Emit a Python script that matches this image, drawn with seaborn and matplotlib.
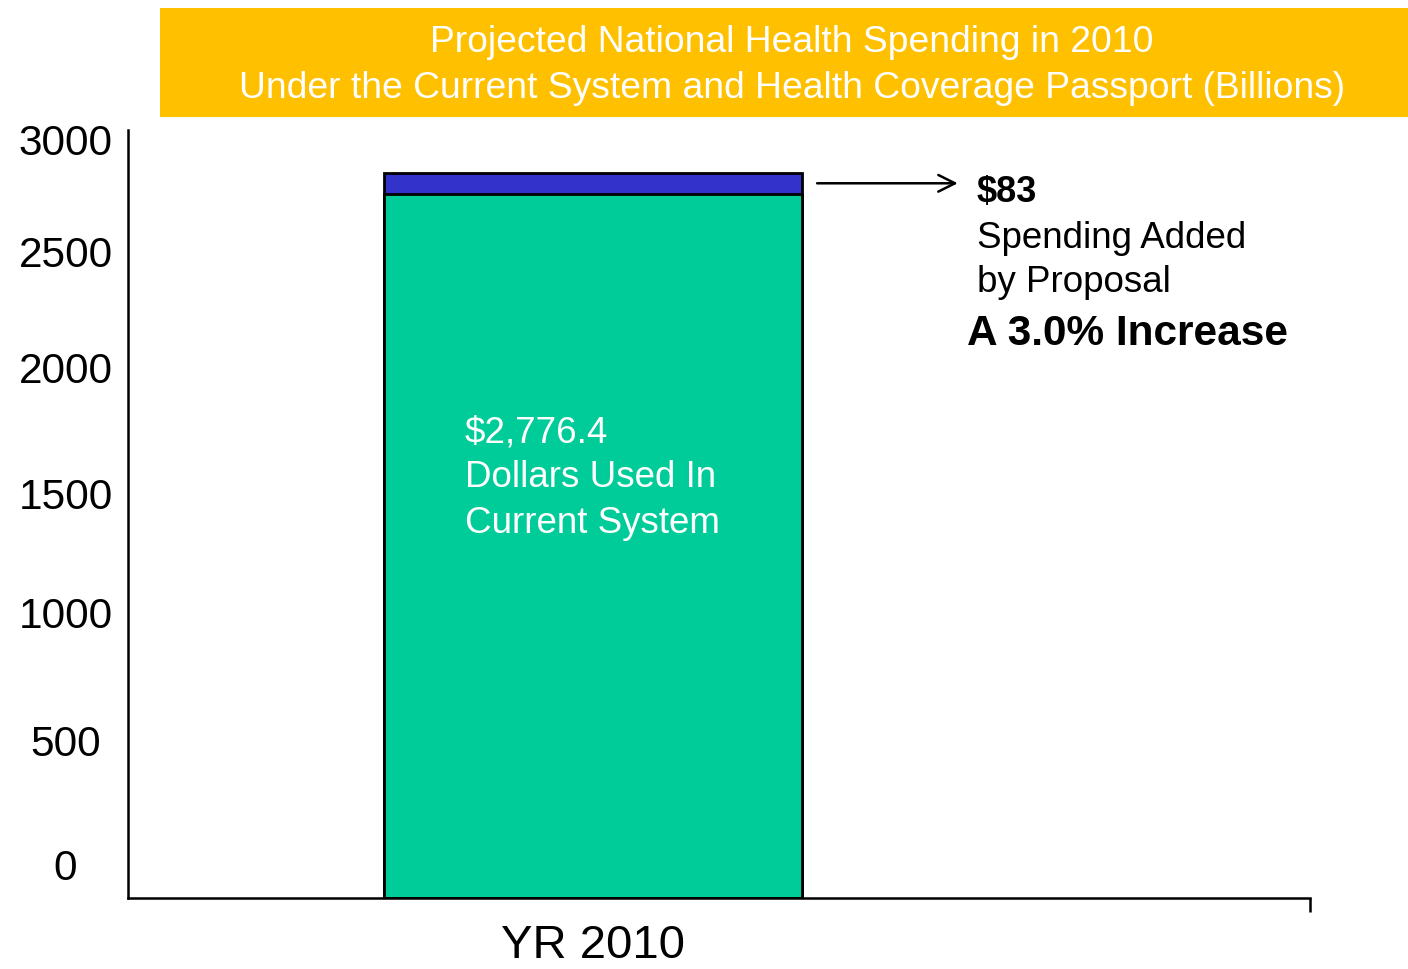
import matplotlib
matplotlib.use("Agg")
import matplotlib.pyplot as plt
import matplotlib.transforms as mtransforms
from matplotlib.patches import Rectangle
import seaborn as sns

# Projected 2010 national health spending, billions of dollars
categories = ["YR 2010"]
current_system = [2776.4]
added_by_proposal = [83.0]
y_ticks = [0, 500, 1000, 1500, 2000, 2500, 3000]
title_lines = [
    "Projected National Health Spending in 2010",
    "Under the Current System and Health Coverage Passport (Billions)",
]

GREEN = "#00CC99"
BLUE = "#3333CC"
GOLD = "#FFC000"

sns.set_theme(style="white")
plt.rcParams["font.family"] = ["Liberation Sans", "DejaVu Sans"]

fig = plt.figure(figsize=(14.08, 9.69), dpi=100)
ax = fig.add_axes([128 / 1408, 71 / 969, 1182 / 1408, 768 / 969])

totals = [c + a for c, a in zip(current_system, added_by_proposal)]

# stacked bar: total drawn first, current-system portion on top of it
sns.barplot(x=categories, y=totals, color=BLUE, saturation=1, width=1.0,
            edgecolor="black", linewidth=2, ax=ax)
sns.barplot(x=categories, y=current_system, color=GREEN, saturation=1, width=1.0,
            edgecolor="black", linewidth=2, ax=ax)

ax.set_xlim(-1.1124, 1.7154)
ax.set_ylim(0, 3028)
ax.set_xlabel("")
ax.set_ylabel("")

for side in ("top", "right"):
    ax.spines[side].set_visible(False)
for side in ("left", "bottom"):
    ax.spines[side].set_color("black")
    ax.spines[side].set_linewidth(1.8)

# y ticks: no marks, centred labels
ax.set_yticks(y_ticks)
ax.set_yticklabels([str(v) for v in y_ticks])
ax.tick_params(axis="y", length=0, pad=45, labelsize=30.5, labelcolor="black")
label_shift = {0: 33, 500: 31, 1000: 32, 1500: 24, 2000: 23, 2500: 12, 3000: -2}
for v, lab in zip(y_ticks, ax.get_yticklabels()):
    lab.set_horizontalalignment("center")
    lab.set_transform(lab.get_transform() + mtransforms.ScaledTranslation(
        0, label_shift[v] / 100, fig.dpi_scale_trans))

ax.tick_params(axis="x", which="major", length=0, pad=19, labelsize=34,
               labelcolor="black")
ax.set_xticks([ax.get_xlim()[1]], minor=True)
ax.tick_params(axis="x", which="minor", bottom=True, length=10, width=1.8,
               direction="out", color="black")

# label inside the green segment
inside = [f"${current_system[0]:,.1f}", "Dollars Used In", "Current System"]
for txt, yf in zip(inside, [0.605, 0.547, 0.488]):
    ax.text(0.285, yf, txt, transform=ax.transAxes, color="white",
            fontsize=26.5, ha="left", va="center")

# arrow pointing from the added segment to its callout
y_mid = current_system[0] + added_by_proposal[0] / 2
ax.annotate("", xy=(0.702, y_mid), xytext=(0.583, y_mid),
            xycoords=ax.get_yaxis_transform(), textcoords=ax.get_yaxis_transform(),
            arrowprops=dict(arrowstyle="->", color="black", lw=1.8,
                            mutation_scale=30, shrinkA=0, shrinkB=0))

pct = added_by_proposal[0] / current_system[0] * 100
ax.text(0.718, 0.918, f"${added_by_proposal[0]:.0f}", transform=ax.transAxes,
        fontsize=26, fontweight="bold", ha="left", va="center", color="black")
ax.text(0.718, 0.859, "Spending Added", transform=ax.transAxes,
        fontsize=26.5, ha="left", va="center", color="black")
ax.text(0.718, 0.801, "by Proposal", transform=ax.transAxes,
        fontsize=26.5, ha="left", va="center", color="black")
ax.text(0.710, 0.734, f"A {pct:.1f}% Increase", transform=ax.transAxes,
        fontsize=30.5, fontweight="bold", ha="left", va="center", color="black")

# title banner
fig.add_artist(Rectangle((160 / 1408, 1 - 117 / 969), 1 - 160 / 1408, 109 / 969,
                         transform=fig.transFigure, facecolor=GOLD,
                         edgecolor="none", zorder=0))
for txt, yf in zip(title_lines, [1 - 43 / 969, 1 - 89 / 969]):
    fig.text(792 / 1408, yf, txt, color="white", fontsize=26.8,
             ha="center", va="center")

fig.savefig("out.png", dpi=100, facecolor="white")
